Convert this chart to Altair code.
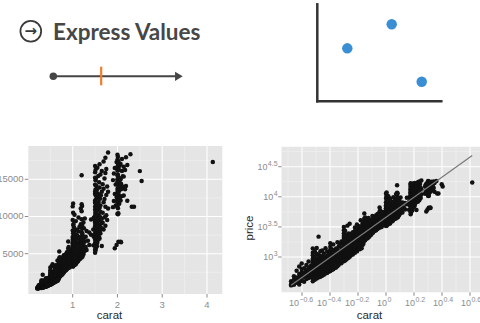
import altair as alt
import pandas as pd

# ---------------- data ----------------
carat_levels = [
    0.21, 0.22, 0.23, 0.24, 0.25, 0.26, 0.27, 0.28, 0.29,
    0.30, 0.31, 0.32, 0.33, 0.34,
    0.35, 0.36, 0.37, 0.38, 0.39, 0.40, 0.41, 0.42, 0.43, 0.44, 0.45,
    0.46, 0.47, 0.48, 0.49, 0.50, 0.51, 0.52, 0.53, 0.54, 0.55,
    0.56, 0.57, 0.58, 0.59, 0.60, 0.61, 0.62, 0.63, 0.64, 0.65, 0.66, 0.67, 0.68, 0.69,
    0.70, 0.71, 0.72, 0.73, 0.74, 0.75, 0.76, 0.77, 0.78, 0.79, 0.80,
    0.81, 0.82, 0.83, 0.84, 0.85, 0.86, 0.87, 0.88, 0.90, 0.91, 0.92, 0.93, 0.95, 0.96,
    1.00, 1.01, 1.02, 1.03, 1.04, 1.05, 1.06, 1.07, 1.08, 1.09, 1.10,
    1.11, 1.12, 1.13, 1.14, 1.15, 1.16, 1.17, 1.18, 1.19, 1.20, 1.21, 1.22, 1.23, 1.24, 1.25, 1.26, 1.27,
    1.29, 1.31, 1.34, 1.37, 1.41,
    1.46, 1.47, 1.50, 1.51, 1.52, 1.53, 1.54, 1.55, 1.56, 1.57, 1.58, 1.59,
    1.60, 1.61, 1.62, 1.63, 1.65, 1.67, 1.69, 1.71, 1.73, 1.75, 1.77, 1.79,
    1.90, 1.92, 1.94, 1.96, 1.98, 2.00, 2.01, 2.02, 2.03, 2.04,
    2.05, 2.07, 2.08, 2.10, 2.12, 2.14, 2.17, 2.19, 2.22,
    2.29, 2.32, 2.37, 2.50, 2.54,
    4.13,
]

prices_by_level = [
    # 0.21 .. 0.29
    [338, 395, 352], [361, 420, 478, 347], [372, 399, 455, 590, 433], [351, 447, 468, 522, 695, 384],
    [405, 412, 498, 560, 631, 779], [389, 470, 476, 545, 648], [431, 462, 589, 602, 738, 505],
    [447, 519, 540, 670, 842, 611], [466, 497, 628, 711, 563],
    # 0.30 .. 0.34
    [394, 437, 455, 521, 532, 580, 598, 613, 666, 702, 709, 788, 803, 889, 934, 1070, 1180, 1390, 480, 656],
    [418, 472, 509, 556, 561, 640, 687, 694, 745, 836, 861, 1004, 1245, 592],
    [440, 498, 503, 574, 631, 650, 719, 783, 794, 922, 1118, 1412, 687],
    [459, 528, 575, 603, 682, 690, 771, 868, 961, 1090, 2180, 817],
    [470, 552, 604, 610, 706, 748, 872, 899, 1037, 1246],
    # 0.35 .. 0.45
    [487, 590, 625, 718, 736, 840, 1012, 1281], [508, 573, 676, 697, 812, 905, 1149, 760],
    [531, 612, 668, 781, 862, 868, 1003, 1402], [545, 650, 714, 720, 829, 946, 1041, 1233],
    [571, 649, 702, 798, 901, 1136, 959],
    [583, 651, 723, 739, 812, 866, 870, 951, 1004, 1091, 1102, 1222, 1318, 1479, 1690],
    [611, 742, 779, 903, 975, 1063, 1352], [627, 693, 836, 852, 968, 1111, 1290, 1621],
    [656, 781, 884, 903, 1030, 1217], [672, 790, 812, 975, 1076, 1390],
    [703, 834, 901, 958, 1133, 1306, 1752],
    # 0.46 .. 0.55
    [745, 905, 982, 1230, 1513], [812, 871, 1095, 1154, 1649], [790, 1003, 1265, 1412, 1804],
    [856, 1040, 1187, 1350],
    [850, 918, 986, 1066, 1122, 1180, 1260, 1299, 1365, 1430, 1471, 1552, 1610, 1705, 1820, 1902, 2072,
     2240, 2449, 2788, 3140, 1345],
    [874, 955, 1040, 1127, 1210, 1287, 1315, 1402, 1538, 1585, 1690, 1822, 1989, 2190, 2391, 2722],
    [906, 1094, 1165, 1270, 1488, 1570, 1735, 1906, 2281], [948, 1060, 1232, 1380, 1512, 1790, 2154, 3320],
    [975, 1150, 1305, 1460, 1705, 2050, 2466], [1012, 1140, 1330, 1638, 1780, 2233, 3580],
    # 0.56 .. 0.69
    [1060, 1325, 1410, 1765, 2231], [1145, 1298, 1690, 2008, 2460], [1102, 1530, 1612, 1904, 2590],
    [1228, 1370, 1840, 2175], [1181, 1466, 1505, 1612, 1795, 1993, 2070, 2320, 2705, 3104, 1260],
    [1312, 1650, 1708, 2205, 2871], [1240, 1418, 1965, 2390, 2480, 3458], [1388, 1575, 1890, 2290, 2995],
    [1460, 1742, 2130, 2695], [1342, 1620, 1985, 2340, 2580, 3239], [1505, 1890, 2075, 2810, 4080],
    [1395, 1770, 2460, 3062], [1580, 1702, 2210, 2535, 3130, 3612], [1655, 2080, 2345, 2915],
    # 0.70 .. 0.80
    [1870, 1935, 2110, 2285, 2340, 2575, 2690, 2740, 3015, 3085, 3390, 3570, 3960, 4380, 5290, 2195, 2880],
    [1905, 2060, 2415, 2510, 2795, 2930, 3205, 3480, 3890, 4513, 2260],
    [2012, 2330, 2645, 2720, 3175, 3610], [2135, 2265, 2905, 3340, 4020], [2055, 2470, 2595, 3095, 3450],
    [2227, 2395, 2840, 3020, 3712, 4459], [2180, 2680, 3265, 3810], [2440, 2560, 3370],
    [2312, 2875, 3110, 4105], [2610, 2950, 3520], [2470, 2785, 3070, 3405, 3960, 4781],
    # 0.81 .. 0.96
    [2582, 3210, 3380, 4271], [2890, 3130, 3764], [2705, 3515, 3990, 4539], [2980, 3245, 4405],
    [2790, 3390, 3705, 4920], [3105, 3870, 4190], [2920, 3455, 4650, 5190], [3280, 3610, 4380],
    [3065, 3340, 3710, 3790, 4145, 4520, 4670, 5180, 5705, 6640, 3980],
    [3190, 3650, 4290, 4412, 5360, 5905], [3402, 3975, 4810], [3150, 3820, 4205, 5211],
    [3550, 3690, 4630, 5578], [3380, 4315, 4930],
    # 1.00 .. 1.10
    [3262, 3390, 4015, 4180, 4230, 4790, 5015, 5102, 5660, 6055, 6390, 6475, 7260, 8105, 9530, 11360,
     4920, 3715, 5480, 6880],
    [3318, 3512, 3790, 4390, 4612, 4655, 5205, 5830, 5911, 6270, 7010, 7745, 8870, 10490, 11740, 4120, 5470],
    [3420, 3955, 4010, 4878, 5320, 5385, 6470, 7295, 9005], [3620, 3701, 4555, 5790, 6205, 6960, 8540],
    [3488, 4190, 4302, 5016, 6610, 7420, 10240], [3705, 3890, 4935, 5555, 5702, 6245, 8150],
    [3810, 4705, 5380, 6890], [3592, 4460, 4515, 5935, 7620, 9380], [3945, 5215, 5690, 6450],
    [4085, 4810, 5060, 7075], [3870, 4670, 6115, 6405, 8210],
    # 1.11 .. 1.27
    [4105, 5185, 5220, 7390], [3998, 4955, 6310], [4485, 4530, 6060, 7980, 9870], [4230, 5665, 5810],
    [4390, 4795, 6785, 8605], [5140, 6090], [4320, 5570, 7205], [4710, 5045, 6490, 8970, 11080],
    [4598, 6205],
    [4480, 4920, 5390, 5485, 6110, 6815, 7045, 7930, 8460, 9640, 10710, 11640, 15530],
    [4955, 5710, 6395, 7480, 8805, 11420], [4620, 5890, 6015, 7660], [5105, 5530, 6930],
    [4940, 6320, 9180], [5265, 5445, 7125, 8415], [5750], [5380, 6640, 9720],
    # 1.29 .. 1.41
    [5915, 7280], [5490, 8050], [6730], [6170, 7860], [7540, 9610],
    # 1.46 .. 1.59
    [6120, 8240], [7280, 9850],
    [5140, 5530, 6075, 6405, 6890, 7530, 7760, 8310, 9180, 9455, 10090, 10920, 11305, 12140, 13070, 13330,
     14260, 15210, 15945, 16780, 8705, 11890],
    [5420, 5805, 6540, 7190, 7395, 8060, 8955, 9700, 10385, 10560, 11770, 12890, 13615, 14880, 16240, 9220],
    [5780, 6930, 7415, 9060, 10725, 11280, 12995, 15170], [6205, 8030, 8395, 9915, 12440, 14110],
    [5990, 7680, 10095, 11590, 13560], [6480, 7105, 9340, 10880, 12710, 16540], [7510, 8920, 11205],
    [6890, 8170, 9760, 13040, 15450], [7820, 10260, 11960], [7240, 9480, 12820, 14605],
    # 1.60 .. 1.79
    [7030, 8650, 11140, 13910, 17020], [8130, 9920, 12380], [7730, 10610, 11490, 15660], [9010, 12860],
    [6030, 8420, 9705, 13340, 16120], [9150, 10510, 14350], [8240, 11920, 13720, 17380],
    [9890, 12340, 15110], [8765, 11300, 15840, 17910], [10180, 12905, 16380], [9520, 14040],
    [11070, 13320, 18590],
    # 1.90 .. 2.04
    [11260, 14890], [12070, 15780], [5720, 13040, 16520], [11480, 14310], [6170, 12610, 17310],
    [10380, 11305, 12150, 12340, 13260, 13710, 14490, 14670, 15530, 16140, 16390, 17620, 18290, 11860, 15020],
    [10290, 11120, 12650, 13495, 13840, 14970, 15630, 16905, 17480, 18020],
    [6610, 10430, 12020, 14260, 15310, 16450], [12890, 13370, 16240, 17260], [11720, 14650, 15140, 17030],
    # 2.05 .. 2.22
    [12380, 13980, 16810], [6620, 12150, 15020, 17050], [6530, 13660, 14390], [12740, 13810, 16120, 17720],
    [14020, 15410], [12830, 15360, 16690], [13670, 16260], [14090, 17960], [12120, 16930],
    # 2.29 .. 2.54
    [18360], [11300], [11320], [16100], [14770],
    # 4.13
    [17330],
]

left_x_major = [1, 2, 3, 4]
left_x_minor = [0.5, 1.5, 2.5, 3.5]
left_x_labels = ["1", "2", "3", "4"]
left_y_major = [5000, 10000, 15000]
left_y_minor = [2500, 7500, 12500, 17500]
left_y_labels = ["5000", "10000", "15000"]

right_x_major = [-0.6, -0.4, -0.2, 0.0, 0.2, 0.4, 0.6]
right_x_minor = [-0.7, -0.5, -0.3, -0.1, 0.1, 0.3, 0.5]
right_x_exp = ["\u22120.6", "\u22120.4", "\u22120.2", "0", "0.2", "0.4", "0.6"]
right_y_major = [3.0, 3.5, 4.0, 4.5]
right_y_minor = [2.75, 3.25, 3.75, 4.25, 4.75]
right_y_exp = ["3", "3.5", "4", "4.5"]

marker_value = [0.37]          # orange mark on the value line
mini_x = [0.242, 0.60, 0.842]  # three blue dots
mini_y = [0.546, 0.794, 0.202]

# ---------------- build tables ----------------
rows = [(c, p) for c, ps in zip(carat_levels, prices_by_level) for p in ps]
diamonds = pd.DataFrame(rows, columns=["carat", "price"])

BG = "#E5E5E5"
MINOR = "#F2F2F2"
TICK = "#8A8A8A"
LABEL = "#8C8C8C"
TITLE = "#2B2B2B"
FONT = "Liberation Sans"
DARK = "#454545"
PT = 20


def panel_base(xs, ys, xdom, ydom, xmaj, xmin, ymaj, ymin):
    bg = alt.Chart(pd.DataFrame({"x": [xdom[0]], "x2": [xdom[1]],
                                 "y": [ydom[0]], "y2": [ydom[1]]})).mark_rect(color=BG).encode(
        x=alt.X("x:Q", scale=xs, axis=None), x2="x2:Q",
        y=alt.Y("y:Q", scale=ys, axis=None), y2="y2:Q")

    def vlines(vals, color, w):
        return alt.Chart(pd.DataFrame({"v": vals, "lo": ydom[0], "hi": ydom[1]})).mark_rule(
            color=color, strokeWidth=w).encode(
            x=alt.X("v:Q", scale=xs, axis=None),
            y=alt.Y("lo:Q", scale=ys, axis=None), y2="hi:Q")

    def hlines(vals, color, w):
        return alt.Chart(pd.DataFrame({"v": vals, "lo": xdom[0], "hi": xdom[1]})).mark_rule(
            color=color, strokeWidth=w).encode(
            y=alt.Y("v:Q", scale=ys, axis=None),
            x=alt.X("lo:Q", scale=xs, axis=None), x2="hi:Q")

    return [bg, vlines(xmin, MINOR, 0.6), hlines(ymin, MINOR, 0.6),
            vlines(xmaj, "white", 1.1), hlines(ymaj, "white", 1.1)]


# ---------------- left panel (linear) ----------------
LXD = [0.008, 4.342]
LYD = [-417, 19476]
LX = alt.Scale(domain=LXD, range=[28.3, 222.3], zero=False, nice=False)
LY = alt.Scale(domain=LYD, range=[294, 146], zero=False, nice=False)

left_layers = panel_base(LX, LY, LXD, LYD, left_x_major, left_x_minor, left_y_major, left_y_minor)
left_layers.append(alt.Chart(diamonds).mark_circle(size=PT, color="#111111", opacity=1).encode(
    x=alt.X("carat:Q", scale=LX, axis=None), y=alt.Y("price:Q", scale=LY, axis=None)))
lxdf = pd.DataFrame({"v": left_x_major, "t": left_x_labels})
lydf = pd.DataFrame({"v": left_y_major, "t": left_y_labels})
left_layers += [
    alt.Chart(lxdf).mark_rule(color=TICK, strokeWidth=1).encode(
        x=alt.X("v:Q", scale=LX, axis=None), y=alt.value(294), y2=alt.value(297.5)),
    alt.Chart(lxdf).mark_text(font=FONT, fontSize=9.5, color=LABEL, baseline="middle").encode(
        x=alt.X("v:Q", scale=LX, axis=None), y=alt.value(304.5), text="t:N"),
    alt.Chart(lydf).mark_rule(color=TICK, strokeWidth=1).encode(
        y=alt.Y("v:Q", scale=LY, axis=None), x=alt.value(24.8), x2=alt.value(28.3)),
    alt.Chart(lydf).mark_text(font=FONT, fontSize=9.5, color=LABEL, baseline="middle", align="right").encode(
        y=alt.Y("v:Q", scale=LY, axis=None), x=alt.value(23.6), text="t:N"),
    alt.Chart(pd.DataFrame({"t": ["carat"]})).mark_text(font=FONT, fontSize=11.5, color=TITLE, baseline="middle").encode(
        x=alt.value(109.5), y=alt.value(316), text="t:N"),
]
left_group = alt.layer(*left_layers)

# ---------------- right panel (log10 / log10) ----------------
RXD = [-0.746, 0.68]
RYD = [2.414, 4.832]
RX = alt.Scale(domain=RXD, range=[281.56, 481.2], zero=False, nice=False)
RY = alt.Scale(domain=RYD, range=[292.3, 146.7], zero=False, nice=False)

logged = alt.Chart(diamonds).transform_calculate(
    lc="log(datum.carat) / LN10", lp="log(datum.price) / LN10")
right_layers = panel_base(RX, RY, RXD, RYD, right_x_major, right_x_minor, right_y_major, right_y_minor)
right_layers.append(logged.mark_circle(size=PT, color="#111111", opacity=1).encode(
    x=alt.X("lc:Q", scale=RX, axis=None), y=alt.Y("lp:Q", scale=RY, axis=None)))
right_layers.append(logged.transform_regression("lc", "lp").mark_line(color="#7A7A7A", strokeWidth=1.2).encode(
    x=alt.X("lc:Q", scale=RX, axis=None), y=alt.Y("lp:Q", scale=RY, axis=None)))

rxdf = pd.DataFrame({"v": right_x_major, "e": right_x_exp})
rydf = pd.DataFrame({"v": right_y_major, "e": right_y_exp})


def xlab(filt, dxb, dxe):
    base = alt.Chart(rxdf).transform_filter(filt)
    return [
        base.mark_text(font=FONT, fontSize=9, color=LABEL, baseline="middle", align="right", dx=dxb).encode(
            x=alt.X("v:Q", scale=RX, axis=None), y=alt.value(303), text=alt.value("10")),
        base.mark_text(font=FONT, fontSize=7, color=LABEL, baseline="middle", align="left", dx=dxe).encode(
            x=alt.X("v:Q", scale=RX, axis=None), y=alt.value(300.3), text="e:N"),
    ]


right_layers += xlab("datum.v < 0", -3, -2.6)
right_layers += xlab("datum.v >= 0", 1, 1.4)
right_layers += [
    alt.Chart(rxdf).mark_rule(color=TICK, strokeWidth=1).encode(
        x=alt.X("v:Q", scale=RX, axis=None), y=alt.value(292.3), y2=alt.value(295.8)),
    alt.Chart(rydf).mark_rule(color=TICK, strokeWidth=1).encode(
        y=alt.Y("v:Q", scale=RY, axis=None), x=alt.value(278.2), x2=alt.value(281.6)),
    alt.Chart(rydf).mark_text(font=FONT, fontSize=7, color=LABEL, baseline="middle", align="right", dy=-2.6).encode(
        y=alt.Y("v:Q", scale=RY, axis=None), x=alt.value(277.6), text="e:N"),
    alt.Chart(rydf).transform_filter("datum.v % 1 != 0").mark_text(
        font=FONT, fontSize=9, color=LABEL, baseline="middle", align="right").encode(
        y=alt.Y("v:Q", scale=RY, axis=None), x=alt.value(267.4), text=alt.value("10")),
    alt.Chart(rydf).transform_filter("datum.v % 1 == 0").mark_text(
        font=FONT, fontSize=9, color=LABEL, baseline="middle", align="right").encode(
        y=alt.Y("v:Q", scale=RY, axis=None), x=alt.value(273.2), text=alt.value("10")),
    alt.Chart(pd.DataFrame({"t": ["carat"]})).mark_text(font=FONT, fontSize=11.5, color=TITLE, baseline="middle").encode(
        x=alt.value(369.5), y=alt.value(316), text="t:N"),
    alt.Chart(pd.DataFrame({"t": ["price"]})).mark_text(font=FONT, fontSize=11.5, color=TITLE, baseline="middle", angle=270).encode(
        x=alt.value(250), y=alt.value(228), text="t:N"),
]
right_group = alt.layer(*right_layers)

# ---------------- top-left icon: "Express Values" ----------------
NX = alt.Scale(domain=[0, 1], range=[53.3, 182.7], zero=False, nice=False)
icon_group = alt.layer(
    alt.Chart(pd.DataFrame({"a": [0]})).mark_point(shape="circle", filled=False, size=430, color="#3A3A3A",
                                                   strokeWidth=1.8, opacity=1).encode(
        x=alt.value(30.8), y=alt.value(31.2)),
    alt.Chart(pd.DataFrame({"t": ["\u2192"]})).mark_text(font="DejaVu Sans", fontWeight="bold", fontSize=15,
                                                        color="#3A3A3A", baseline="middle").encode(
        x=alt.value(30.8), y=alt.value(31.0), text="t:N"),
    alt.Chart(pd.DataFrame({"t": ["Express Values"]})).mark_text(font="Lato", fontWeight="bold", fontSize=22.5,
                                                                color="#474747", align="left",
                                                                baseline="alphabetic").encode(
        x=alt.value(53), y=alt.value(39.5), text="t:N"),
    alt.Chart(pd.DataFrame({"a": [0], "b": [0.975]})).mark_rule(color=DARK, strokeWidth=2).encode(
        x=alt.X("a:Q", scale=NX, axis=None), x2="b:Q", y=alt.value(76.3)),
    alt.Chart(pd.DataFrame({"a": [0]})).mark_point(shape="circle", filled=True, size=56, color=DARK,
                                                   opacity=1).encode(
        x=alt.X("a:Q", scale=NX, axis=None), y=alt.value(76.3)),
    alt.Chart(pd.DataFrame({"a": [1]})).mark_point(shape="M -1.65 -1 L 0 0 L -1.65 1 Z", filled=True, size=86,
                                                   color=DARK, opacity=1).encode(
        x=alt.X("a:Q", scale=NX, axis=None), y=alt.value(76.3)),
    alt.Chart(pd.DataFrame({"v": marker_value})).mark_rule(color="#EF7D2C", strokeWidth=2.2).encode(
        x=alt.X("v:Q", scale=NX, axis=None), y=alt.value(66.7), y2=alt.value(85.3)),
)

# ---------------- top-right mini scatter ----------------
MX = alt.Scale(domain=[0, 1], range=[317.3, 441.3], zero=False, nice=False)
MY = alt.Scale(domain=[0, 1], range=[101.3, 4.3], zero=False, nice=False)
mini_axes = pd.DataFrame({"x": [0, 0], "x2": [0, 1], "y": [0, 0], "y2": [1, 0]})
mini_group = alt.layer(
    alt.Chart(mini_axes).mark_rule(color="#333333", strokeWidth=2.5, strokeCap="square").encode(
        x=alt.X("x:Q", scale=MX, axis=None), x2="x2:Q",
        y=alt.Y("y:Q", scale=MY, axis=None), y2="y2:Q"),
    alt.Chart(pd.DataFrame({"x": mini_x, "y": mini_y})).mark_circle(size=110, color="#3A8FD4", opacity=1).encode(
        x=alt.X("x:Q", scale=MX, axis=None), y=alt.Y("y:Q", scale=MY, axis=None)),
)

chart = alt.layer(icon_group, mini_group, left_group, right_group).resolve_scale(
    x="independent", y="independent"
).properties(
    width=480, height=323, autosize=alt.AutoSizeParams(type="none"), padding=0, background="white"
).configure_view(stroke=None)

chart.save("out.html", embed_options={"renderer": "svg", "actions": False})
